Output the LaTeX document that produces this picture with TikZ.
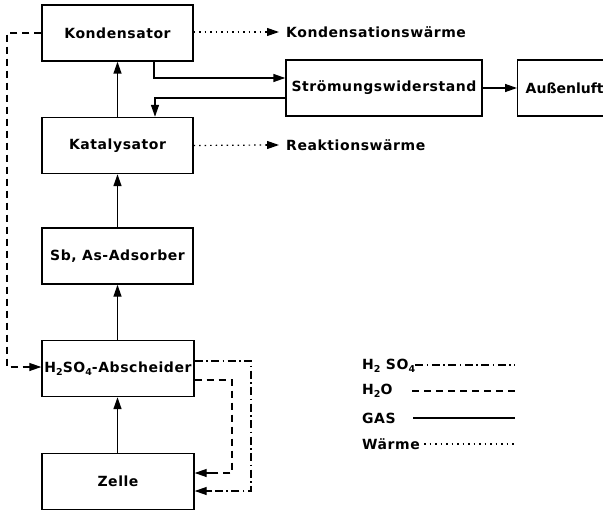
\documentclass[tikz,border=0pt]{standalone}
\usepackage{fontspec}
\setmainfont{DejaVu Sans}[LetterSpace=4]
\usetikzlibrary{arrows.meta, positioning, calc}
\newcommand{\chsub}[1]{\raisebox{-0.45ex}{\fontsize{9.5}{9.5}\selectfont #1}}
\tikzset{
  kbox/.style={draw, line width=1.4pt, minimum width=151pt, minimum height=56pt,
               inner sep=0pt, font=\fontsize{14}{16}\selectfont\bfseries},
  gasline/.style={line width=1.4pt, -{Triangle[length=12pt, width=8pt]}},
  waterline/.style={line width=1.2pt, dash pattern=on 7pt off 5pt},
  acidline/.style={line width=1.2pt, dash pattern=on 8pt off 3.5pt on 1.5pt off 3.5pt},
  heatline/.style={line width=1.2pt, dash pattern=on 1.5pt off 4pt},
  tip/.style={line width=1.2pt, -{Triangle[length=12pt, width=8pt]}},
  lbl/.style={font=\fontsize{14}{16}\selectfont\bfseries, inner sep=0pt},
}
\begin{document}
\begin{tikzpicture}[x=1pt, y=-1pt]
    \useasboundingbox (0,0) rectangle (603,511);
    % Bloecke
    \node[kbox] (kond) at (117.5,33) {Kondensator};
    \node[kbox] (kat) at (117.5,145.5) {Katalysator};
    \node[kbox] (ads) at (117.5,256) {Sb, As-Adsorber};
    \node[kbox, minimum width=152pt] (absch) at (118,368.5) {H\chsub{2}SO\chsub{4}-Abscheider};
    \node[kbox, minimum width=152pt] (zelle) at (118,481.5) {Zelle};
    \node[kbox, minimum width=196pt] (strom) at (384,88) {Strömungswiderstand};
    \node[kbox, anchor=west, minimum width=110pt, align=left, text width=94pt,
          inner xsep=7pt] (luft) at (517,88) {\addfontfeature{LetterSpace=0}Außenluft};
    % Gas
    \draw[gasline] (zelle.north -| 117.5,0) -- (absch.south -| 117.5,0);
    \draw[gasline] (absch.north -| 117.5,0) -- (ads.south);
    \draw[gasline] (ads) -- (kat);
    \draw[gasline] (kat) -- (kond);
    \draw[gasline] (kond.south -| 154,0) |- (strom.west |- 0,78);
    \draw[gasline] (strom.west |- 0,98) -| (kat.north -| 155,0);
    \draw[gasline] (strom) -- (luft);
    % Waerme
    \node[lbl, anchor=west] (kwaerme) at (286,32) {Kondensationswärme};
    \node[lbl, anchor=west] (rwaerme) at (286,145) {Reaktionswärme};
    \draw[heatline] (kond.east |- 0,32) -- ($(kwaerme.west)+(-18,0)$);
    \draw[tip] ($(kwaerme.west)+(-20,0)$) -- ($(kwaerme.west)+(-7,0)$);
    \draw[heatline] (kat.east) -- ($(rwaerme.west)+(-18,0)$);
    \draw[tip] ($(rwaerme.west)+(-20,0)$) -- ($(rwaerme.west)+(-7,0)$);
    % H2O
    \draw[waterline] (kond.west) -- (7,33) -- (7,367) -- (28,367);
    \draw[tip] (26,367) -- (absch.west |- 0,367);
    \draw[waterline] (absch.east |- 0,380) -- (232,380) -- (232,473) -- (210,473);
    \draw[tip] (212,473) -- (zelle.east |- 0,473);
    % H2SO4
    \draw[acidline] (absch.east |- 0,361) -- (251,361) -- (251,491) -- (210,491);
    \draw[tip] (212,491) -- (zelle.east |- 0,491);
    % Legende
    \node[lbl, anchor=west] (lacid) at (362,366) {H\chsub{2} SO\chsub{4}};
    \node[lbl, anchor=west] (lwater) at (362,391) {H\chsub{2}O};
    \node[lbl, anchor=west] (lgas) at (362,418) {GAS};
    \node[lbl, anchor=west] (lheat) at (362,444) {Wärme};
    \draw[acidline] (lacid.east |- 0,365) -- (515,365);
    \draw[waterline] (412,391) -- (515,391);
    \draw[line width=1.3pt] (413,418) -- (515,418);
    \draw[heatline] (lheat.east) ++(4,0) -- (515,444);
  \end{tikzpicture}
\end{document}
